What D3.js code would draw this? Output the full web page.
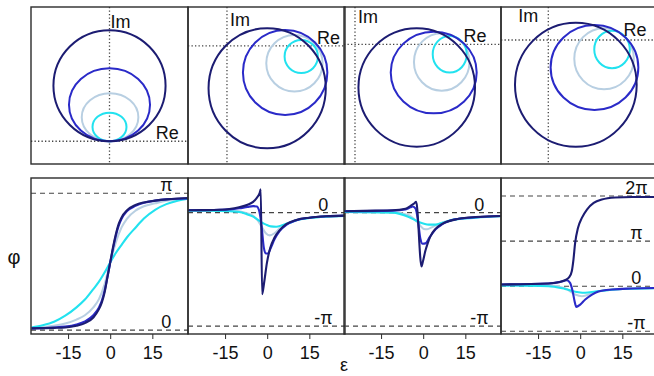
<!DOCTYPE html>
<html>
<head>
<meta charset="utf-8">
<script src="https://cdn.jsdelivr.net/npm/d3@7"></script>
<style>
  body { margin: 0; background: #fff; overflow: hidden; }
  svg { display: block; }
  text { font-family: "Liberation Sans", Arial, sans-serif; fill: #111; }
</style>
</head>
<body>
<svg id="chart"></svg>
<script>
// four curves per panel, darkest to lightest
const seriesColors = ["#1c1c72", "#2a2ac8", "#b8cfe2", "#22e2ef"];

// ---- top row: loops in the complex plane (Re, Im) ----
const planeXDomain = [[-0.707, 0.707], [-0.349, 1.057], [-0.099, 1.315], [-0.426, 0.988]];
const planeYDomain = [[-0.205, 1.21], [-1.063, 0.351], [-1.078, 0.336], [-1.117, 0.297]];
// per panel, per series: centre and half widths of each loop
const loopCx = [[0, 0, 0.005, 0], [0.36, 0.521, 0.604, 0.665], [0.556, 0.709, 0.781, 0.853], [0.248, 0.416, 0.502, 0.574]];
const loopCy = [[0.5, 0.329, 0.216, 0.129], [-0.381, -0.239, -0.156, -0.095], [-0.389, -0.254, -0.159, -0.09], [-0.403, -0.248, -0.169, -0.086]];
const loopRx = [[0.505, 0.365, 0.255, 0.153], [0.525, 0.378, 0.252, 0.149], [0.525, 0.387, 0.25, 0.153], [0.548, 0.395, 0.268, 0.16]];
const loopRy = [[0.5, 0.329, 0.216, 0.129], [0.541, 0.383, 0.255, 0.149], [0.533, 0.368, 0.259, 0.165], [0.559, 0.383, 0.275, 0.169]];

// ---- bottom row: phase vs energy, [eps, phi] ----
const aNavy = [[-28, 0.04], [-20, 0.05], [-16, 0.06], [-12, 0.1], [-9, 0.16], [-6, 0.29], [-4, 0.48], [-3, 0.63], [-2, 0.86], [-1, 1.21], [0, 1.55], [1, 1.9], [2, 2.2], [3, 2.43], [4, 2.58], [6, 2.75], [9, 2.87], [12, 2.93], [16, 2.97], [20, 3.0], [24, 3.02], [28, 3.03]];
const aBlue = [[-28, 0.04], [-20, 0.06], [-16, 0.08], [-12, 0.13], [-9, 0.2], [-6, 0.34], [-4, 0.52], [-3, 0.67], [-2, 0.9], [-1, 1.21], [0, 1.55], [1, 1.87], [2, 2.16], [3, 2.39], [4, 2.55], [6, 2.73], [9, 2.85], [12, 2.92], [16, 2.97], [20, 3.0], [28, 3.02]];
const aLight = [[-28, 0.05], [-20, 0.1], [-16, 0.15], [-12, 0.24], [-9, 0.34], [-6, 0.52], [-4, 0.71], [-2, 1.05], [0, 1.55], [2, 2.01], [4, 2.35], [6, 2.56], [9, 2.74], [12, 2.84], [16, 2.91], [20, 2.97], [28, 3.01]];
const aCyan = [[-28, 0.06], [-24, 0.11], [-20, 0.19], [-16, 0.33], [-12, 0.52], [-9, 0.7], [-6, 0.94], [-4, 1.11], [-2, 1.32], [0, 1.55], [2, 1.77], [4, 1.95], [6, 2.13], [9, 2.35], [12, 2.56], [16, 2.76], [20, 2.89], [24, 2.97], [28, 3.02]];

const bNavy = [[-29, 0.065], [-23, 0.07], [-17, 0.08], [-13.5, 0.1], [-10, 0.15], [-7, 0.22], [-5, 0.3], [-3.7, 0.41], [-2.7, 0.54], [-2.3, 0.65], [-1.8, -2.26], [-1.1, -1.94], [-0.1, -1.39], [1.1, -0.97], [2.6, -0.69], [4.4, -0.49], [6.8, -0.32], [10.4, -0.2], [15, -0.14], [21, -0.1], [28, -0.08]];
const bBlue = [[-29, 0.065], [-17, 0.08], [-13.5, 0.09], [-10, 0.12], [-7, 0.16], [-5, 0.18], [-3.7, 0.17], [-2.7, 0.0], [-2, -0.37], [-1.2, -0.97], [-0.5, -1.13], [0.3, -1.13], [1.3, -0.97], [2.6, -0.74], [4.4, -0.51], [6.8, -0.34], [10.4, -0.21], [15, -0.14], [21, -0.1], [28, -0.08]];
const bLight = [[-29, 0.065], [-13.5, 0.06], [-10, 0.04], [-7, -0.02], [-5, -0.09], [-3.7, -0.18], [-2.1, -0.37], [-0.5, -0.57], [0.9, -0.63], [2.6, -0.57], [4.4, -0.44], [6.8, -0.31], [10.4, -0.2], [15, -0.14], [28, -0.08]];
const bCyan = [[-29, 0.055], [-17, 0.05], [-10, 0.02], [-7, -0.05], [-5, -0.11], [-3.7, -0.18], [-2.1, -0.26], [-0.4, -0.33], [1.3, -0.38], [3.2, -0.39], [5.6, -0.34], [8, -0.28], [10.4, -0.21], [15, -0.15], [21, -0.11], [28, -0.09]];

const cNavy = [[-29, 0.04], [-17, 0.056], [-11, 0.065], [-6.3, 0.11], [-4.5, 0.19], [-3.3, 0.25], [-2.5, 0.3], [-0.6, -1.49], [-0.1, -1.35], [0.8, -1.05], [1.6, -0.85], [2.6, -0.65], [4.4, -0.45], [6.8, -0.31], [12.7, -0.17], [18.7, -0.12], [28, -0.09]];
const cBlue = [[-29, 0.04], [-11, 0.056], [-6.3, 0.09], [-4.5, 0.15], [-3.7, 0.17], [-2.7, 0.11], [-1.8, -0.26], [-1, -0.72], [-0.2, -0.86], [0.8, -0.85], [2.3, -0.68], [4.4, -0.46], [6.8, -0.32], [12.7, -0.17], [28, -0.09]];
const cLight = [[-29, 0.03], [-11, 0.02], [-5.1, -0.07], [-2.1, -0.26], [0.2, -0.45], [1.4, -0.46], [3.2, -0.4], [5.6, -0.31], [10.4, -0.2], [18.7, -0.13], [28, -0.09]];
const cCyan = [[-29, 0.02], [-11, 0.0], [-5.1, -0.12], [-1.5, -0.26], [2, -0.33], [4.4, -0.33], [6.8, -0.28], [10.4, -0.2], [18.7, -0.14], [28, -0.1]];

const dNavy = [[-29, 0.12], [-11.3, 0.19], [-7.7, 0.28], [-5.4, 0.42], [-3.9, 0.63], [-3, 1.04], [-2.4, 1.86], [-1.8, 3.02], [-0.8, 4.06], [0.6, 4.76], [2.4, 5.34], [4.8, 5.8], [7.7, 6.04], [12.5, 6.18], [18.5, 6.22], [28, 6.22]];
const dBlue = [[-29, 0.12], [-11.3, 0.19], [-6.5, 0.33], [-4.8, 0.42], [-3.6, 0.23], [-2.7, -0.35], [-2, -1.04], [-1.4, -1.44], [0, -1.28], [1.8, -0.93], [4.2, -0.58], [6.5, -0.37], [11.3, -0.23], [18.5, -0.16], [28, -0.12]];
const dLight = [[-29, 0.09], [-11.3, 0.07], [-5.4, -0.14], [-1.8, -0.58], [0.6, -0.7], [3, -0.58], [6.5, -0.35], [12.5, -0.23], [28, -0.14]];
const dCyan = [[-29, 0.05], [-11.3, 0.0], [-5.4, -0.19], [-0.6, -0.42], [1.8, -0.46], [5.4, -0.37], [12.5, -0.23], [28, -0.14]];

const phaseSeries = [
  [aNavy, aBlue, aLight, aCyan],
  [bNavy, bBlue, bLight, bCyan],
  [cNavy, cBlue, cLight, cCyan],
  [dNavy, dBlue, dLight, dCyan]
];

const PI = Math.PI;
const epsDomain = [-28.2, 27.7];
const epsTicks = [-15, 0, 15];
const phiDomain = [[-0.09, 3.49], [-3.36, 0.96], [-3.36, 0.96], [-3.33, 7.54]];
const refValues = [[0, PI], [0, -PI], [0, -PI], [2 * PI, PI, 0, -PI]];
const refLabels = [["0", "π"], ["0", "-π"], ["0", "-π"], ["2π", "π", "0", "-π"]];
const refLabelEps = 20;

// ---- layout ----
const width = 654;
const height = 376;
const panelLeft = [31, 188, 344, 501];
const panelW = 157;
const top1 = 7, bottom1 = 164;
const top2 = 178, bottom2 = 334;
const frameColor = "#2b2b2b";
const guideColor = "#444";

const svg = d3.select("#chart").attr("width", width).attr("height", height);

// label offsets for Im / Re in each plane panel
const imLabel = [{ dx: 1, anchor: "start", y: 28 }, { dx: 3, anchor: "start", y: 26 }, { dx: 3, anchor: "start", y: 23 }, { dx: -10, anchor: "end", y: 22 }];
const reLabelX = [0.52, 0.91, 1.08, 0.78];
const reLabelDy = [-2, -2, -2, -4];

// draw order: light, cyan, blue, navy
const drawOrder = [2, 3, 1, 0];

panelLeft.forEach((x0, p) => {
  // ----- top: complex plane -----
  const xs = d3.scaleLinear().domain(planeXDomain[p]).range([x0, x0 + panelW]);
  const ys = d3.scaleLinear().domain(planeYDomain[p]).range([bottom1, top1]);

  svg.append("clipPath").attr("id", `clipT${p}`)
    .append("rect").attr("x", x0).attr("y", top1).attr("width", panelW).attr("height", bottom1 - top1);

  const gt = svg.append("g").attr("clip-path", `url(#clipT${p})`);

  gt.append("line")
    .attr("x1", xs(0)).attr("x2", xs(0)).attr("y1", top1).attr("y2", bottom1)
    .attr("stroke", guideColor).attr("stroke-width", 1.3).attr("stroke-dasharray", "1.3,2.2");
  gt.append("line")
    .attr("x1", x0).attr("x2", x0 + panelW).attr("y1", ys(0)).attr("y2", ys(0))
    .attr("stroke", guideColor).attr("stroke-width", 1.3).attr("stroke-dasharray", "1.3,2.2");

  drawOrder.forEach((s) => {
    gt.append("ellipse")
      .attr("cx", xs(loopCx[p][s]))
      .attr("cy", ys(loopCy[p][s]))
      .attr("rx", xs(loopRx[p][s]) - xs(0))
      .attr("ry", ys(0) - ys(loopRy[p][s]))
      .attr("fill", "none")
      .attr("stroke", seriesColors[s])
      .attr("stroke-width", 2);
  });

  gt.append("text")
    .attr("x", xs(0) + imLabel[p].dx).attr("y", imLabel[p].y)
    .attr("text-anchor", imLabel[p].anchor)
    .attr("font-size", 18)
    .text("Im");
  gt.append("text")
    .attr("x", xs(reLabelX[p])).attr("y", ys(0) + reLabelDy[p])
    .attr("text-anchor", "middle")
    .attr("font-size", 18)
    .text("Re");

  svg.append("rect")
    .attr("x", x0).attr("y", top1).attr("width", panelW).attr("height", bottom1 - top1)
    .attr("fill", "none").attr("stroke", frameColor).attr("stroke-width", 1.4);

  // ----- bottom: phase -----
  const xe = d3.scaleLinear().domain(epsDomain).range([x0, x0 + panelW]);
  const yp = d3.scaleLinear().domain(phiDomain[p]).range([bottom2, top2]);

  svg.append("clipPath").attr("id", `clipB${p}`)
    .append("rect").attr("x", x0).attr("y", top2).attr("width", panelW).attr("height", bottom2 - top2);

  const gb = svg.append("g").attr("clip-path", `url(#clipB${p})`);

  refValues[p].forEach((v, i) => {
    gb.append("line")
      .attr("x1", x0).attr("x2", x0 + panelW).attr("y1", yp(v)).attr("y2", yp(v))
      .attr("stroke", guideColor).attr("stroke-width", 1.1).attr("stroke-dasharray", "5,4");
    gb.append("text")
      .attr("x", xe(refLabelEps)).attr("y", yp(v) - 2)
      .attr("text-anchor", "middle")
      .attr("font-size", 18)
      .text(refLabels[p][i]);
  });

  const line = d3.line()
    .x((d) => xe(d[0]))
    .y((d) => yp(d[1]))
    .curve(d3.curveMonotoneX);

  drawOrder.forEach((s) => {
    gb.append("path")
      .attr("d", line(phaseSeries[p][s]))
      .attr("fill", "none")
      .attr("stroke", seriesColors[s])
      .attr("stroke-width", 2.1)
      .attr("stroke-linejoin", "round");
  });

  svg.append("rect")
    .attr("x", x0).attr("y", top2).attr("width", panelW).attr("height", bottom2 - top2)
    .attr("fill", "none").attr("stroke", frameColor).attr("stroke-width", 1.4);

  // plain hyphen minus, like the original
  const xAxisG = svg.append("g")
    .attr("transform", `translate(0,${bottom2})`)
    .call(d3.axisBottom(xe).tickValues(epsTicks).tickSize(5).tickPadding(7).tickFormat((d) => String(d)));
  xAxisG.select(".domain").remove();
  xAxisG.attr("font-family", null).attr("font-size", null);
  xAxisG.selectAll("line").attr("stroke", frameColor);
  xAxisG.selectAll("text").attr("font-size", 18).attr("fill", "#111");
});

svg.append("text")
  .attr("x", 14).attr("y", 264)
  .attr("text-anchor", "middle")
  .attr("font-size", 20)
  .text("φ");

svg.append("text")
  .attr("x", 344).attr("y", 371)
  .attr("text-anchor", "middle")
  .attr("font-size", 18)
  .text("ε");
</script>
</body>
</html>
